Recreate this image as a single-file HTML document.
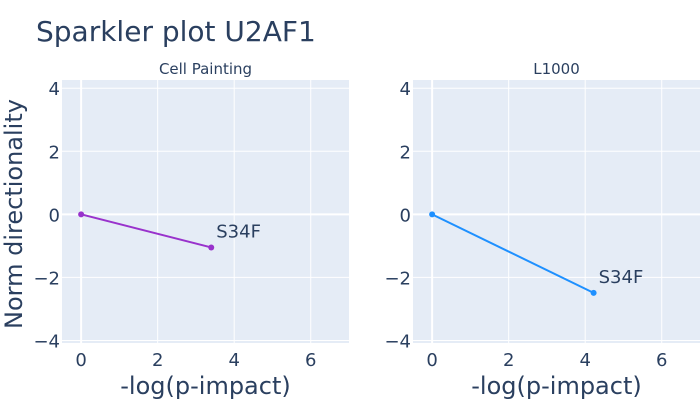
<!DOCTYPE html>
<html><head><meta charset="utf-8"><style>
body{margin:0;background:#fff}
svg text{font-family:"DejaVu Sans","Liberation Sans",sans-serif;fill:#2a3f5f}
</style></head><body>
<svg id="chart" width="700" height="400">
<rect width="700" height="400" fill="#fff"/>
<text x="36" y="41" font-size="28">Sparkler plot U2AF1</text>
<g id="panels"></g>
</svg>
<script>
const panelTitles = ["Cell Painting", "L1000"];
const labels = ["S34F", "S34F"];
const xValues = [[0, 3.4], [0, 4.22]];
const yValues = [[0, -1.05], [0, -2.49]];
const colors = ["#9932cc", "#1e90ff"];
const xTicks = [0, 2, 4, 6];
const yTicks = [4, 2, 0, -2, -4];
const yTickLabels = ["4", "2", "0", "\u22122", "\u22124"];

const NS = "http://www.w3.org/2000/svg";
const g = document.getElementById("panels");
function mk(tag, attrs, parent) {
  const e = document.createElementNS(NS, tag);
  for (const k in attrs) e.setAttribute(k, attrs[k]);
  (parent || g).appendChild(e);
  return e;
}
const xMin = -0.5, xMax = 7, yMin = -4.08, yMax = 4.26;
const panelLeft = [62, 413], W = 287, plotTop = 80, H = 263;

panelTitles.forEach((title, p) => {
  const L = panelLeft[p];
  const sx = v => L + (v - xMin) / (xMax - xMin) * W;
  const sy = v => plotTop + (yMax - v) / (yMax - yMin) * H;
  const bg = mk("rect", {x: L, y: plotTop, width: W, height: H, fill: "#e5ecf6"});
  
  
  xTicks.forEach(t => {
    const ln = mk("line", {x1: sx(t), x2: sx(t), y1: plotTop, y2: plotTop + H, stroke: "#fff", "stroke-width": t === 0 ? 2 : 1});
    
    
    const tx = mk("text", {x: sx(t), y: 366, "font-size": 18, "text-anchor": "middle"});
    tx.textContent = t;
    
    
  });
  yTicks.forEach((t, i) => {
    const ln = mk("line", {x1: L, x2: L + W, y1: sy(t), y2: sy(t), stroke: "#fff", "stroke-width": t === 0 ? 2 : 1});
    
    
    const tx = mk("text", {x: L - 2, y: sy(t) + 7, "font-size": 18, "text-anchor": "end"});
    tx.textContent = yTickLabels[i];
    
    
  });
  const st = mk("text", {x: L + W / 2, y: 74, "font-size": 15, "text-anchor": "middle"});
  st.textContent = title;
  
  
  const xt = mk("text", {x: L + W / 2, y: 394, "font-size": 24, "text-anchor": "middle"});
  xt.textContent = "-log(p-impact)";
  
  
  const xs = xValues[p], ys = yValues[p];
  const line = mk("polyline", {points: xs.map((x, i) => sx(x) + "," + sy(ys[i])).join(" "), fill: "none", stroke: colors[p], "stroke-width": 2});
  
  
  xs.forEach((x, i) => {
    const c = mk("circle", {cx: sx(x), cy: sy(ys[i]), r: 3, fill: colors[p]});
    
    
  });
  const lab = mk("text", {x: sx(xs[1]) + 5, y: sy(ys[1]) - 10, "font-size": 18});
  lab.textContent = labels[p];
  
  
});
const yt = mk("text", {x: 0, y: 0, "font-size": 24, "text-anchor": "middle", transform: "translate(22,214) rotate(-90)"});
yt.textContent = "Norm directionality";


</script>
</body></html>
